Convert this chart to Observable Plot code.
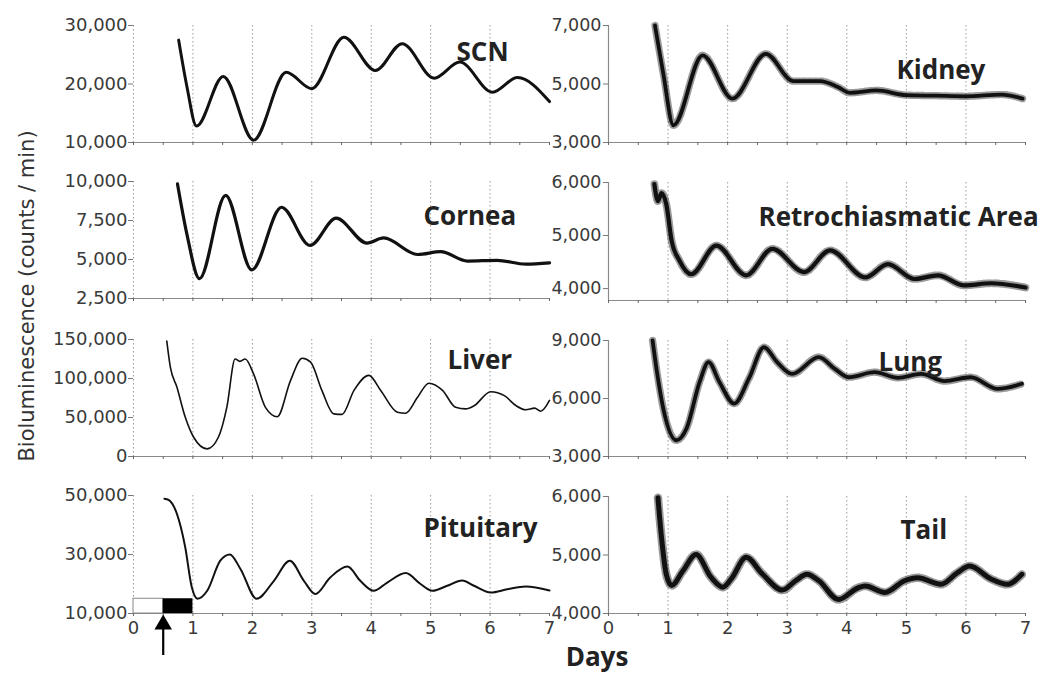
<!DOCTYPE html>
<html>
<head>
<meta charset="utf-8">
<script src="https://cdn.jsdelivr.net/npm/d3@7"></script>
<script src="https://cdn.jsdelivr.net/npm/@observablehq/plot@0.6"></script>
<style>
  html, body { margin: 0; padding: 0; background: white; }
  #fig { position: relative; width: 1042px; height: 676px; overflow: hidden; background: white; }
  .lab { position: absolute; white-space: nowrap; line-height: 1; }
</style>
</head>
<body>
<div id="fig"></div>
<script>
// ---- data (days, counts/min) ----
const xTicks = [0, 0.5, 1, 1.5, 2, 2.5, 3, 3.5, 4, 4.5, 5, 5.5, 6, 6.5, 7];
const gridDays = [1, 2, 3, 4, 5, 6];

const scnT = [0.76, 0.9, 1.06, 1.51, 2.02, 2.57, 3.0, 3.54, 4.07, 4.52, 5.06, 5.49, 6.04, 6.46, 7.0];
const scnV = [27500, 19500, 12800, 21300, 10400, 22000, 19200, 28000, 22300, 26900, 21000, 23750, 18600, 21100, 17000];
const scnTicks = [10000, 20000, 30000];

const kidneyT = [0.78, 0.92, 1.09, 1.58, 2.08, 2.64, 3.1, 3.55, 3.85, 4.05, 4.5, 5.0, 5.5, 6.0, 6.6, 6.95];
const kidneyV = [7000, 5350, 3590, 5980, 4500, 6030, 5100, 5100, 4900, 4700, 4780, 4620, 4600, 4580, 4640, 4500];
const kidneyTicks = [3000, 5000, 7000];

const corneaT = [0.74, 0.9, 1.11, 1.55, 1.99, 2.49, 2.97, 3.41, 3.93, 4.21, 4.78, 5.17, 5.62, 6.12, 6.6, 7.0];
const corneaV = [9850, 6600, 3775, 9110, 4330, 8350, 5900, 7650, 6050, 6380, 5320, 5500, 4900, 4950, 4700, 4780];
const corneaTicks = [2500, 5000, 7500, 10000];

const retroT = [0.77, 0.83, 0.89, 0.97, 1.06, 1.19, 1.39, 1.81, 2.31, 2.75, 3.28, 3.72, 4.31, 4.69, 5.14, 5.53, 5.97, 6.42, 7.0];
const retroV = [5970, 5650, 5800, 5590, 4900, 4530, 4270, 4810, 4250, 4750, 4310, 4720, 4210, 4460, 4180, 4250, 4060, 4100, 4020];
const retroTicks = [4000, 5000, 6000];

const liverT = [0.56, 0.62, 0.73, 0.87, 1.01, 1.24, 1.43, 1.57, 1.71, 1.79, 1.88, 2.02, 2.22, 2.42, 2.64, 2.84, 2.98, 3.17, 3.37, 3.51, 3.71, 3.96, 4.16, 4.44, 4.58, 4.78, 4.97, 5.2, 5.42, 5.59, 5.73, 6.01, 6.24, 6.44, 6.6, 6.75, 6.85, 7.0];
const liverV = [148000, 114500, 89000, 50600, 25000, 9800, 25000, 63000, 125000, 122000, 125000, 106000, 63000, 51000, 97000, 126000, 121000, 84700, 54700, 54000, 84700, 104000, 84700, 56800, 55500, 76000, 94000, 84700, 63000, 61000, 65000, 83000, 78000, 65000, 60000, 62000, 58000, 72000];
const liverTicks = [0, 50000, 100000, 150000];

const lungT = [0.74, 0.81, 0.92, 1.14, 1.31, 1.53, 1.68, 1.86, 2.11, 2.36, 2.61, 2.83, 3.08, 3.53, 3.8, 4.03, 4.47, 4.86, 5.25, 5.64, 6.08, 6.53, 6.94];
const lungV = [9000, 7450, 5480, 3840, 4450, 6860, 7880, 6860, 5740, 7050, 8650, 7880, 7270, 8140, 7530, 7100, 7360, 7070, 7270, 6900, 7100, 6500, 6760];
const lungTicks = [3000, 6000, 9000];

const pitT = [0.52, 0.59, 0.73, 0.87, 0.98, 1.08, 1.24, 1.46, 1.62, 1.8, 2.07, 2.36, 2.63, 2.87, 3.06, 3.31, 3.6, 3.82, 4.04, 4.27, 4.58, 4.83, 5.03, 5.28, 5.53, 5.73, 6.01, 6.29, 6.6, 7.0];
const pitV = [48900, 48500, 43800, 32500, 19000, 15000, 17700, 27900, 30000, 25100, 15000, 21000, 27900, 21000, 16600, 22200, 25900, 21000, 17700, 20500, 23700, 20000, 17700, 19400, 21200, 19400, 17100, 18200, 19150, 17800];
const pitTicks = [10000, 30000, 50000];

const tailT = [0.83, 0.89, 0.97, 1.06, 1.25, 1.47, 1.72, 1.92, 2.06, 2.31, 2.58, 2.92, 3.14, 3.33, 3.53, 3.86, 4.19, 4.31, 4.64, 4.97, 5.19, 5.58, 5.86, 6.06, 6.42, 6.69, 6.94];
const tailV = [5980, 5300, 4670, 4480, 4730, 5010, 4620, 4450, 4590, 4960, 4680, 4400, 4560, 4670, 4560, 4240, 4440, 4470, 4360, 4560, 4610, 4500, 4700, 4810, 4590, 4500, 4670];
const tailTicks = [4000, 5000, 6000];

// light pulse (Pituitary panel): dark box from 0.5 to 1 day, open box from 0 to 0.5
const pulseStart = 0.5, pulseEnd = 1.0, pulseLow = 10000, pulseHigh = 15000;

// ---- layout (styles / positions only) ----
const panels = [
  {title: "SCN", t: scnT, v: scnV, ticks: scnTicks, domain: [10000, 30000], col: 0, top: 25, bottom: 142, sw: 3, noisy: false, tx: 456, ty: 42},
  {title: "Kidney", t: kidneyT, v: kidneyV, ticks: kidneyTicks, domain: [3000, 7000], col: 1, top: 25, bottom: 142, sw: 3.8, noisy: true, tx: 896, ty: 60},
  {title: "Cornea", t: corneaT, v: corneaV, ticks: corneaTicks, domain: [2500, 10000], col: 0, top: 181, bottom: 298, sw: 3.2, noisy: false, tx: 423, ty: 206},
  {title: "Retrochiasmatic Area", t: retroT, v: retroV, ticks: retroTicks, domain: [3775, 6000], col: 1, top: 182, bottom: 300, sw: 4.2, noisy: true, tx: 758, ty: 207},
  {title: "Liver", t: liverT, v: liverV, ticks: liverTicks, domain: [0, 150000], col: 0, top: 339, bottom: 456, sw: 1.6, noisy: false, tx: 447, ty: 350},
  {title: "Lung", t: lungT, v: lungV, ticks: lungTicks, domain: [3000, 9000], col: 1, top: 340, bottom: 456, sw: 3.8, noisy: true, tx: 878, ty: 352},
  {title: "Pituitary", t: pitT, v: pitV, ticks: pitTicks, domain: [10000, 50000], col: 0, top: 495, bottom: 613, sw: 2, noisy: false, tx: 423, ty: 518, pulse: true, last: true},
  {title: "Tail", t: tailT, v: tailV, ticks: tailTicks, domain: [4000, 6000], col: 1, top: 496, bottom: 613, sw: 5, noisy: true, tx: 900, ty: 520, last: true}
];

const fig = document.getElementById("fig");
const fmt = d3.format(",");

for (const p of panels) {
  const data = p.t.map((t, i) => ({t, v: p.v[i]}));
  const left = p.col === 0 ? 0 : 480;
  const mL = p.col === 0 ? 133 : 128;
  const plotW = p.col === 0 ? 416 : 417;
  const width = 560;
  const mR = width - mL - plotW;
  const mT = 10, mB = p.last ? 50 : 10;
  const plotH = p.bottom - p.top;
  const perPx = (p.domain[1] - p.domain[0]) / plotH;

  const marks = [
    Plot.ruleX(gridDays, {stroke: "#9a9a9a", strokeWidth: 1, strokeDasharray: "1.5,2.5"}),
    Plot.ruleX([0], p.col === 0
      ? {stroke: "#9a9a9a", strokeWidth: 1, strokeDasharray: "1.5,2.5"}
      : {stroke: "#8a8a8a", strokeWidth: 1.2}),
    Plot.ruleY([p.domain[0]], {stroke: "#8a8a8a", strokeWidth: 1.2}),
    Plot.axisY({ticks: p.ticks, tickFormat: fmt, tickSize: 5, tickPadding: p.col === 0 ? 1 : 2, fontSize: p.col === 0 ? 18 : 17.5, stroke: "#777", label: null}),
    Plot.axisX({ticks: xTicks, tickFormat: d => (p.last && d % 1 === 0) ? String(d) : "", tickSize: 3, tickPadding: 5, fontSize: 18, label: null, stroke: "#666"})
  ];
  if (p.pulse) {
    marks.push(Plot.rect([{x1: 0, x2: pulseStart, y1: pulseLow, y2: pulseHigh}], {x1: "x1", x2: "x2", y1: "y1", y2: "y2", fill: "white", stroke: "#888", strokeWidth: 1}));
    marks.push(Plot.rect([{x1: pulseStart, x2: pulseEnd, y1: pulseLow, y2: pulseHigh}], {x1: "x1", x2: "x2", y1: "y1", y2: "y2", fill: "black"}));
  }
  if (p.noisy) {
    marks.push(Plot.line(data, {x: "t", y: "v", curve: "monotone-x", stroke: "#222", strokeOpacity: 0.45, strokeWidth: p.sw + 3.5, strokeDasharray: "0.8,2.2,1.6,1.2"}));
  }
  marks.push(Plot.line(data, {x: "t", y: "v", curve: "monotone-x", stroke: "#111", strokeWidth: p.sw, strokeLinejoin: "round"}));
  if (p.pulse) {
    const shaftBottom = p.domain[0] - 42 * perPx;
    const shaftTop = p.domain[0] - 16 * perPx;
    const headY = p.domain[0] - 11 * perPx;
    marks.push(Plot.ruleX([pulseStart], {y1: shaftBottom, y2: shaftTop, stroke: "black", strokeWidth: 2.2}));
    marks.push(Plot.dot([{x: pulseStart, y: headY}], {x: "x", y: "y", symbol: "triangle", r: 6.5, fill: "black", stroke: "none"}));
  }
  marks.push(Plot.text([p.title], {frameAnchor: "top-left", textAnchor: "start", dx: p.tx - (left + mL), dy: p.ty - p.top, fontSize: 26, fontWeight: "bold", fontFamily: "Open Sans", fill: "#222"}));

  const chart = Plot.plot({
    width, height: mT + plotH + mB,
    marginLeft: mL, marginRight: mR, marginTop: mT, marginBottom: mB,
    style: {background: "transparent", overflow: "visible", fontFamily: "DejaVu Sans", fontSize: "18px", color: "#3a3a3a"},
    x: {domain: [0, 7]},
    y: {domain: p.domain},
    marks
  });
  chart.style.position = "absolute";
  chart.style.left = left + "px";
  chart.style.top = (p.top - mT) + "px";
  fig.append(chart);
}

const yl = document.createElement("div");
yl.className = "lab";
yl.textContent = "Bioluminescence (counts / min)";
Object.assign(yl.style, {left: "27px", top: "296px", transform: "translate(-50%, -50%) rotate(-90deg)", fontFamily: "DejaVu Sans", fontSize: "21px", color: "#333"});
fig.append(yl);

const xl = document.createElement("div");
xl.className = "lab";
xl.textContent = "Days";
Object.assign(xl.style, {left: "597px", top: "656px", transform: "translate(-50%, -50%)", fontFamily: "Open Sans", fontWeight: "bold", fontSize: "26px", color: "#222"});
fig.append(xl);
</script>
</body>
</html>
